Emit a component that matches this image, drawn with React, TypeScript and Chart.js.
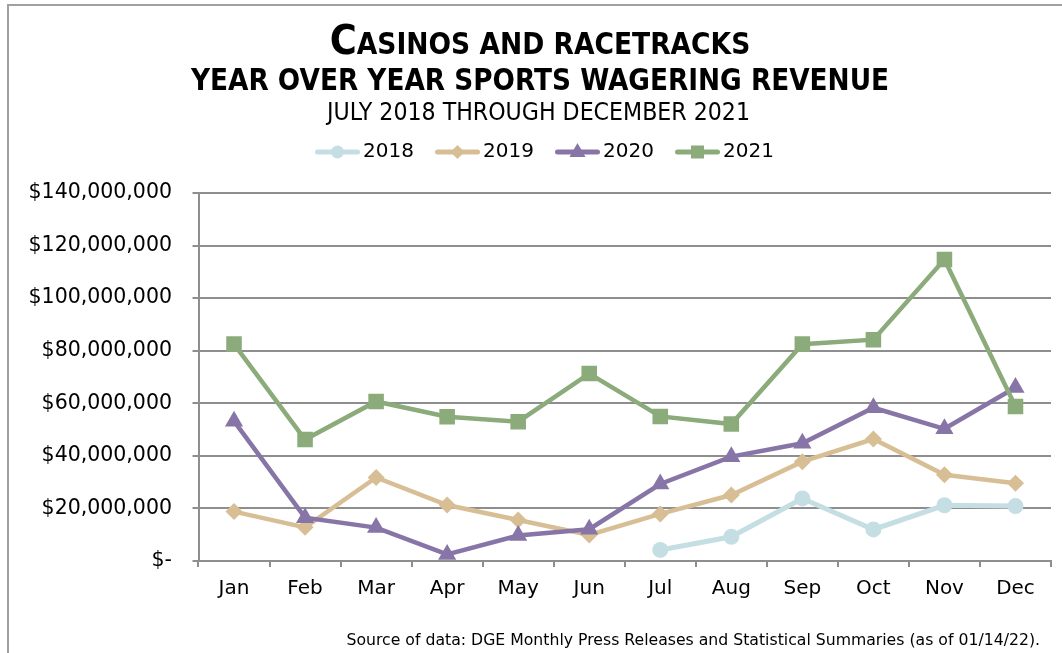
import React, { useEffect, useRef } from 'react';
import { Chart, registerables } from 'chart.js';

Chart.register(...registerables);

const months = ['Jan', 'Feb', 'Mar', 'Apr', 'May', 'Jun', 'Jul', 'Aug', 'Sep', 'Oct', 'Nov', 'Dec'];
const seriesNames = ['2018', '2019', '2020', '2021'];
const rev2018 = [null, null, null, null, null, null, 4200000, 9200000, 23800000, 12000000, 21200000, 20900000];
const rev2019 = [18800000, 12800000, 31800000, 21300000, 15600000, 9900000, 17900000, 25100000, 37800000, 46400000, 32800000, 29600000];
const rev2020 = [53200000, 16500000, 12700000, 2500000, 9700000, 12100000, 29300000, 39700000, 44800000, 58300000, 50300000, 66000000];
const rev2021 = [82500000, 46200000, 60700000, 54900000, 53000000, 71300000, 55000000, 52100000, 82500000, 84200000, 114700000, 58800000];
const yMin = 0;
const yMax = 140000000;
const yStep = 20000000;

const colors = ['#C5DEE3', '#D8BE95', '#8875A8', '#8BAB7B'];
const shapes = ['circle', 'diamond', 'triangle', 'square'];

const FONT = 'DejaVu Sans';
const FONT_COND = '"DejaVu Sans Condensed", "DejaVu Sans"';
const GRID = '#8E8E8E';

function makeIcon(color: string, shape: string): HTMLCanvasElement {
  const c = document.createElement('canvas');
  c.width = 67;
  c.height = 22;
  const ctx = c.getContext('2d')!;
  ctx.strokeStyle = color;
  ctx.lineWidth = 5;
  ctx.lineCap = 'round';
  ctx.beginPath();
  ctx.moveTo(22.5, 11);
  ctx.lineTo(62.5, 11);
  ctx.stroke();
  ctx.fillStyle = color;
  const cx = 42.5;
  const cy = 11;
  ctx.beginPath();
  if (shape === 'circle') {
    ctx.arc(cx, cy, 6.5, 0, Math.PI * 2);
  } else if (shape === 'diamond') {
    ctx.moveTo(cx, cy - 7);
    ctx.lineTo(cx + 7, cy);
    ctx.lineTo(cx, cy + 7);
    ctx.lineTo(cx - 7, cy);
    ctx.closePath();
  } else if (shape === 'triangle') {
    ctx.moveTo(cx, cy - 9);
    ctx.lineTo(cx + 8, cy + 5);
    ctx.lineTo(cx - 8, cy + 5);
    ctx.closePath();
  } else {
    ctx.rect(cx - 6.5, cy - 6.5, 13, 13);
  }
  ctx.fill();
  return c;
}

export default function App() {
  const canvasRef = useRef<HTMLCanvasElement | null>(null);

  useEffect(() => {
    const canvas = canvasRef.current;
    if (!canvas) return;
    const icons = colors.map((c, i) => makeIcon(c, shapes[i]));
    const chart = new Chart(canvas, {
      type: 'line',
      data: {
        labels: months,
        datasets: [
          {
            label: seriesNames[0],
            data: rev2018,
            borderColor: colors[0],
            backgroundColor: colors[0],
            borderWidth: 5,
            pointStyle: 'circle',
            pointRadius: 8,
            pointBorderWidth: 0,
            order: 4,
          },
          {
            label: seriesNames[1],
            data: rev2019,
            borderColor: colors[1],
            backgroundColor: colors[1],
            borderWidth: 4.5,
            pointStyle: 'rectRot',
            pointRadius: 8.5,
            pointBorderWidth: 0,
            order: 3,
          },
          {
            label: seriesNames[2],
            data: rev2020,
            borderColor: colors[2],
            backgroundColor: colors[2],
            borderWidth: 4.5,
            pointStyle: 'triangle',
            pointRadius: 10.5,
            pointBorderWidth: 0,
            order: 2,
          },
          {
            label: seriesNames[3],
            data: rev2021,
            borderColor: colors[3],
            backgroundColor: colors[3],
            borderWidth: 4.5,
            pointStyle: 'rect',
            pointRadius: 11,
            pointBorderWidth: 0,
            order: 1,
          },
        ],
      },
      options: {
        responsive: false,
        maintainAspectRatio: false,
        animation: false,
        devicePixelRatio: 1,
        layout: { padding: { top: 132, left: 26.2, right: 10.4, bottom: 0 } },
        plugins: {
          tooltip: { enabled: false },
          title: { display: false },
          subtitle: {
            display: true,
            text: '',
            weight: 500,
            position: 'top',
            font: { size: 1, lineHeight: 1 },
            padding: { top: 20, bottom: 0 },
          } as any,
          legend: {
            display: true,
            position: 'top',
            align: 'center',
            labels: {
              usePointStyle: true,
              pointStyleWidth: 49.1,
              padding: 10,
              color: '#000',
              font: { family: FONT, size: 20 },
              generateLabels: () =>
                seriesNames.map((name, i) => ({
                  text: name,
                  fillStyle: colors[i],
                  strokeStyle: colors[i],
                  lineWidth: 0,
                  pointStyle: icons[i],
                  hidden: false,
                  datasetIndex: i,
                  fontColor: '#000',
                })),
            },
          },
        },
        scales: {
          x: {
            type: 'category',
            offset: true,
            grid: {
              offset: true,
              drawOnChartArea: false,
              drawTicks: true,
              tickLength: 6,
              color: GRID,
              lineWidth: 2,
            },
            border: { display: true, color: GRID, width: 2 },
            ticks: {
              color: '#000',
              font: { family: FONT, size: 20 },
              padding: 10,
              maxRotation: 0,
              autoSkip: false,
            },
            afterFit: (s: any) => {
              s.height = 92;
            },
          },
          y: {
            min: yMin,
            max: yMax,
            grid: {
              drawTicks: true,
              tickLength: 6,
              color: GRID,
              lineWidth: 2,
            },
            border: { display: true, color: GRID, width: 2 },
            ticks: {
              stepSize: yStep,
              color: '#000',
              padding: 20.5,
              font: { family: FONT, size: 20.5 },
              callback: (v: any) => (Number(v) === 0 ? '$-' : '$' + Number(v).toLocaleString('en-US')),
            },
            afterFit: (s: any) => {
              s.width = 172.3;
            },
          },
        },
      } as any,
    });
    return () => chart.destroy();
  }, []);

  return (
    <div>
      <div
        style={{
          position: 'fixed',
          left: 7,
          top: 4,
          width: 1200,
          height: 800,
          borderTop: '2px solid #A0A0A0',
          borderLeft: '2px solid #A0A0A0',
          boxSizing: 'border-box',
        }}
      />
      <canvas
        ref={canvasRef}
        width={1062}
        height={653}
        style={{ position: 'fixed', left: 0, top: 0, width: 1062, height: 653 }}
      />
      <div
        style={{
          position: 'fixed',
          left: 0,
          top: 20.3,
          width: 1080,
          textAlign: 'center',
          fontFamily: FONT_COND,
          fontWeight: 'bold',
          fontSize: 41,
          lineHeight: 1,
          color: '#000',
          whiteSpace: 'nowrap',
        }}
      >
        C<span style={{ fontSize: 29.5 }}>ASINOS AND RACETRACKS</span>
      </div>
      <div
        style={{
          position: 'fixed',
          left: 0,
          top: 66,
          width: 1080,
          textAlign: 'center',
          fontFamily: FONT_COND,
          fontWeight: 'bold',
          fontSize: 29.3,
          lineHeight: 1,
          color: '#000',
          whiteSpace: 'nowrap',
        }}
      >
        YEAR OVER YEAR SPORTS WAGERING REVENUE
      </div>
      <div
        style={{
          position: 'fixed',
          left: 0,
          top: 99.5,
          width: 1077,
          textAlign: 'center',
          fontFamily: FONT_COND,
          fontSize: 24.6,
          lineHeight: 1,
          color: '#000',
          whiteSpace: 'nowrap',
        }}
      >
        JULY 2018 THROUGH DECEMBER 2021
      </div>
      <div
        style={{
          position: 'fixed',
          right: 22,
          top: 632,
          fontFamily: FONT,
          fontSize: 15.7,
          lineHeight: 1,
          color: '#000',
          whiteSpace: 'nowrap',
        }}
      >
        Source of data: DGE Monthly Press Releases and Statistical Summaries (as of 01/14/22).
      </div>
    </div>
  );
}
